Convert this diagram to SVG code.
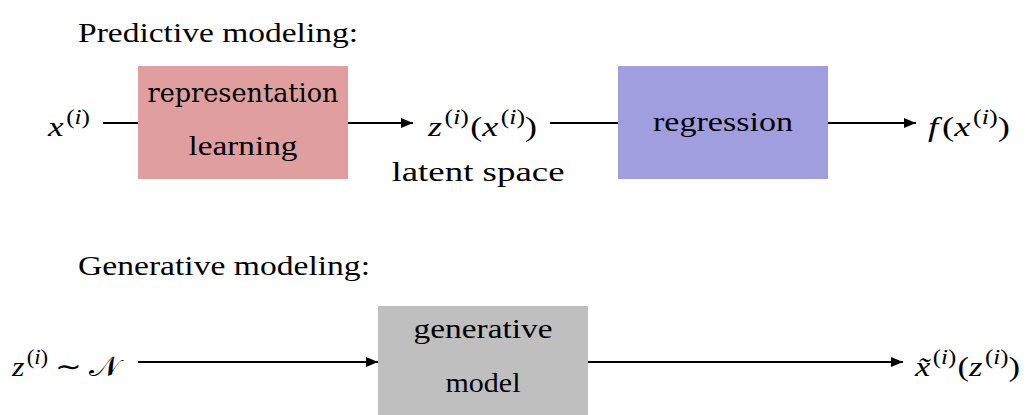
<svg xmlns="http://www.w3.org/2000/svg" width="1027" height="415" viewBox="0 0 1027 415">
<style>
.t{font-family:'Liberation Serif',serif;font-size:28px;fill:#000}
.m{font-style:italic}
.s{font-size:20px}
.line{stroke:#000;stroke-width:2;fill:none}
</style>
<defs>
<marker id="ah" viewBox="0 0 12 10" refX="12" refY="5" markerWidth="12" markerHeight="10" markerUnits="userSpaceOnUse" orient="auto">
<path d="M0,0 L12,5 L0,10 Z" fill="#000"/>
</marker>
</defs>
<rect width="1027" height="415" fill="#fff"/>
<text font-family="Liberation Serif" font-size="28" x="78" y="42" textLength="280" lengthAdjust="spacingAndGlyphs">Predictive modeling:</text>
<text style="font-family:'Liberation Serif';font-size:28px" x="78" y="275" textLength="292" lengthAdjust="spacingAndGlyphs">Generative modeling:</text>
<g id="connectors">
<line class="line" x1="103" y1="123" x2="138" y2="123"/>
<line class="line" x1="348" y1="123" x2="413" y2="123" marker-end="url(#ah)"/>
<line class="line" x1="550" y1="123" x2="618" y2="123"/>
<line class="line" x1="828" y1="123" x2="916" y2="123" marker-end="url(#ah)"/>
<line class="line" x1="138" y1="362" x2="378" y2="362" marker-end="url(#ah)"/>
<line class="line" x1="588" y1="362" x2="903" y2="362" marker-end="url(#ah)"/>
</g>
<g id="input-x">
<text class="t" x="48" y="136" textLength="42" lengthAdjust="spacingAndGlyphs"><tspan class="m">x</tspan><tspan class="s" dx="2" dy="-12">(</tspan><tspan class="s m">i</tspan><tspan class="s">)</tspan></text>
</g>
<g id="representation-learning">
<rect x="138" y="66" width="210" height="113" fill="#E09E9E"/>
<text font-family="DejaVu Serif" font-size="26" x="243" y="102" text-anchor="middle" textLength="191" lengthAdjust="spacingAndGlyphs">representation</text>
<text class="t" x="243" y="155" text-anchor="middle" textLength="109" lengthAdjust="spacingAndGlyphs">learning</text>
</g>
<g id="latent-z">
<text class="t" x="428" y="136" textLength="109" lengthAdjust="spacingAndGlyphs"><tspan class="m">z</tspan><tspan class="s" dx="2" dy="-12">(</tspan><tspan class="s m">i</tspan><tspan class="s">)</tspan><tspan dx="1" dy="12">(</tspan><tspan class="m">x</tspan><tspan class="s" dx="2" dy="-12">(</tspan><tspan class="s m">i</tspan><tspan class="s">)</tspan><tspan dy="12">)</tspan></text>
<text font-family="serif" font-size="28" x="478" y="181" text-anchor="middle" textLength="173" lengthAdjust="spacingAndGlyphs">latent space</text>
</g>
<g id="regression">
<rect x="618" y="66" width="210" height="113" fill="#A09EDE"/>
<text class="t" x="723" y="131" text-anchor="middle" textLength="140" lengthAdjust="spacingAndGlyphs">regression</text>
</g>
<g id="output-f">
<text class="t" x="928" y="136" textLength="82" lengthAdjust="spacingAndGlyphs"><tspan class="m">f</tspan><tspan dx="3">(</tspan><tspan class="m">x</tspan><tspan class="s" dx="2" dy="-12">(</tspan><tspan class="s m">i</tspan><tspan class="s">)</tspan><tspan dy="12">)</tspan></text>
</g>
<g id="prior-z">
<text class="t" x="12" y="376" textLength="108" lengthAdjust="spacingAndGlyphs"><tspan class="m">z</tspan><tspan class="s" dx="2" dy="-12">(</tspan><tspan class="s m">i</tspan><tspan class="s">)</tspan><tspan dx="6" dy="12">∼</tspan><tspan dx="7">𝒩</tspan></text>
</g>
<g id="generative-model">
<rect x="378" y="306" width="210" height="109" fill="#BFBFBF"/>
<text class="t" x="483" y="338" text-anchor="middle" textLength="139" lengthAdjust="spacingAndGlyphs">generative</text>
<text class="t" x="483" y="392" text-anchor="middle" textLength="75" lengthAdjust="spacingAndGlyphs">model</text>
</g>
<g id="output-xtilde">
<text class="t" x="915" y="376" textLength="105" lengthAdjust="spacingAndGlyphs"><tspan class="m">x̃</tspan><tspan class="s" dx="2" dy="-12">(</tspan><tspan class="s m">i</tspan><tspan class="s">)</tspan><tspan dx="1" dy="12">(</tspan><tspan class="m">z</tspan><tspan class="s" dx="2" dy="-12">(</tspan><tspan class="s m">i</tspan><tspan class="s">)</tspan><tspan dy="12">)</tspan></text>
</g>
</svg>
